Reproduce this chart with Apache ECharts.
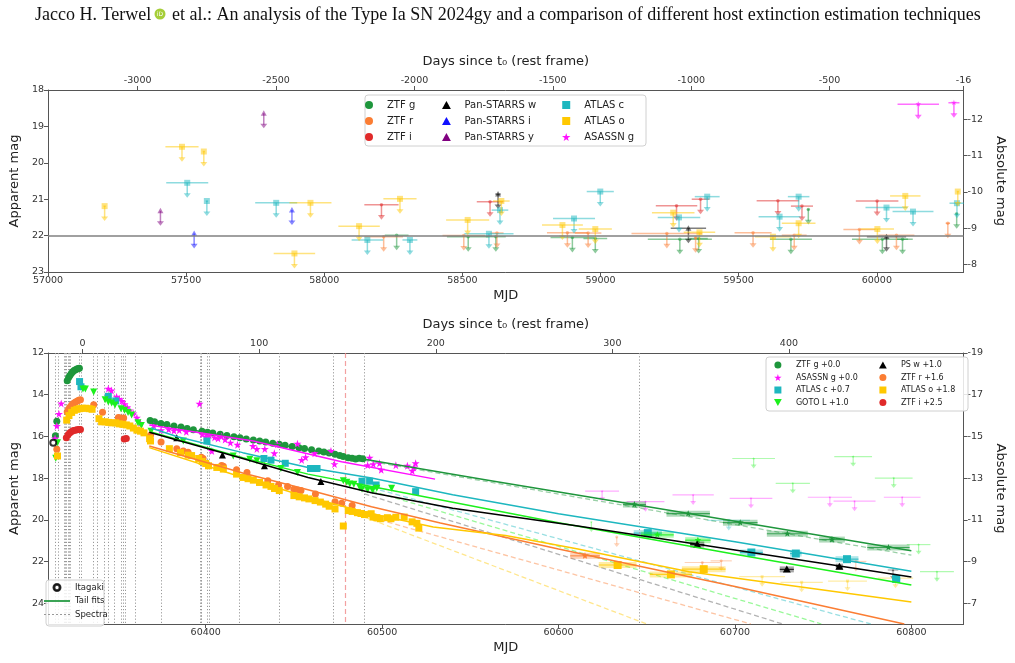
<!DOCTYPE html>
<html>
<head>
<meta charset="utf-8">
<script src="https://cdn.jsdelivr.net/npm/echarts@6/dist/echarts.min.js"></script>
<style>
  html, body { margin: 0; padding: 0; background: #fff; }
  #chart { width: 1015px; height: 663px; }
</style>
</head>
<body>
<div id="chart"></div>
<script>
// ---------- top panel: pre-explosion upper limits [mjd, mag, half-width in days] ----------
var preZtfG = [[58262, 21.99, 43], [58521, 22.03, 77], [58621, 22.03, 36], [58898, 22.05, 79], [58981, 22.08, 43],
  [59287, 22.1, 116], [59355, 22.08, 33], [59689, 22.1, 76], [59752, 21.28, 4], [60020, 22.1, 110], [60093, 22.1, 20], [60289, 21.4, 4]];
var preZtfR = [[58215, 22.03, 70], [58505, 22.0, 77], [58625, 21.93, 24], [58880, 21.92, 74], [58955, 21.93, 48],
  [59240, 21.94, 128], [59344, 22.06, 4], [59552, 21.92, 67], [59701, 21.99, 45], [59937, 21.83, 58], [60071, 21.99, 65], [60257, 21.66, 8]];
var preZtfI = [[58207, 21.15, 62], [58600, 21.07, 48], [59275, 21.18, 75], [59362, 21.0, 32], [59642, 21.04, 77], [59729, 21.19, 40], [60001, 21.05, 77]];
var prePsW = [[58629, 20.86, 10], [59318, 21.8, 64], [60035, 22.03, 71]];
var prePsI = [[57529, 21.94, 0], [57883, 21.3, 0]];
var prePsY = [[57407, 21.32, 0], [57781, 18.64, 0]];
var preAtlasC = [[57504, 20.55, 76], [57575, 21.05, 4], [57826, 21.1, 76], [58156, 22.12, 57], [58310, 22.12, 27], [58596, 21.95, 89],
  [58636, 21.3, 30], [58904, 21.53, 76], [58999, 20.79, 49], [59284, 21.5, 77], [59386, 20.93, 45], [59648, 21.48, 76],
  [59717, 20.93, 39], [60035, 21.23, 76], [60131, 21.34, 74], [60290, 21.11, 27]];
var preAtlasO = [[57205, 21.19, 4], [57485, 19.56, 60], [57564, 19.69, 4], [57892, 22.49, 75], [57950, 21.1, 76], [58126, 21.74, 75],
  [58274, 20.99, 60], [58519, 21.57, 78], [58641, 21.05, 30], [58862, 21.71, 74], [58981, 21.82, 60], [59263, 21.37, 77],
  [59358, 21.91, 57], [59624, 22.03, 65], [59717, 21.66, 61], [60002, 21.82, 60], [60103, 20.91, 55], [60293, 20.79, 4]];
var preAsassnG = [[60150, 18.39, 75], [60279, 18.35, 20]];
var limitMag = 22;

// ---------- bottom panel: light curve [mjd, mag] ----------
var ztfG = [[60314.8, 15.97], [60315.6, 15.27], [60321.5, 13.33], [60322.3, 13.18], [60323, 13.08], [60323.8, 12.98], [60324.6, 12.9],
  [60325.4, 12.84], [60326.2, 12.8], [60327, 12.77], [60327.8, 12.74], [60328.4, 12.73],
  [60368.5, 15.24], [60371, 15.3], [60374.6, 15.38], [60378, 15.43], [60382, 15.5], [60386, 15.55], [60389.5, 15.62], [60393, 15.68],
  [60397.9, 15.75], [60401, 15.8], [60404, 15.84], [60408.2, 15.9], [60412, 15.96], [60416, 16.02], [60419.4, 16.06], [60423, 16.12],
  [60427, 16.17], [60430.6, 16.22], [60434, 16.27], [60438, 16.33], [60441.7, 16.38], [60445, 16.42], [60449, 16.48], [60452.9, 16.54],
  [60456, 16.58], [60460, 16.64], [60464.1, 16.7], [60467, 16.75], [60470, 16.8], [60473.3, 16.86], [60476, 16.92], [60478, 16.97],
  [60480.8, 17.02], [60483, 17.05], [60485, 17.08], [60487, 17.05], [60489, 17.07]];
var ztfR = [[60315.6, 16.62], [60321.5, 14.82], [60322.3, 14.7], [60323, 14.6], [60324, 14.5], [60325, 14.42], [60326, 14.36],
  [60327, 14.31], [60328, 14.27], [60329, 14.24], [60336.5, 14.48], [60341.5, 14.84], [60350.5, 15.1], [60351.5, 15.12],
  [60352.5, 15.15], [60353.5, 15.12], [60368.7, 15.95], [60374.7, 16.27], [60383.6, 16.59], [60387.3, 16.7], [60390, 16.76],
  [60397.5, 17.0], [60398.5, 17.06], [60409, 17.4], [60410, 17.43], [60417.5, 17.6], [60423.4, 17.73], [60435.2, 18.13],
  [60441.3, 18.33], [60446.4, 18.4], [60450, 18.53], [60452, 18.57], [60454, 18.6], [60462.2, 18.76], [60473.3, 19.13],
  [60477.1, 19.21], [60483, 19.32]];
var ztfI = [[60321, 16.06], [60322, 15.92], [60323, 15.82], [60324, 15.76], [60325, 15.72], [60326, 15.7], [60327, 15.68],
  [60328, 15.67], [60329, 15.67], [60353.8, 16.12], [60355, 16.1]];
var asassnG = [[60314.6, 16.1], [60315.6, 15.5], [60316.8, 14.92], [60318.1, 14.42], [60344.8, 13.71], [60346.6, 13.8],
  [60349.5, 14.1], [60351, 14.2], [60352.5, 14.3], [60354, 14.45], [60355.5, 14.6], [60357, 14.75], [60359, 14.9], [60361, 15.1],
  [60363, 15.35], [60370.6, 15.48], [60374.7, 15.7], [60379, 15.66], [60382, 15.72], [60385, 15.7], [60389, 15.78], [60396.5, 14.43],
  [60398, 15.9], [60400, 16.0], [60402, 15.95], [60403.5, 16.7], [60405, 16.05], [60407, 16.1], [60409, 16.0], [60411, 16.15],
  [60414, 16.3], [60418, 16.4], [60426.8, 16.46], [60429, 16.6], [60433.5, 16.6], [60438.9, 16.81], [60440.6, 16.38], [60452, 16.35],
  [60454.4, 17.13], [60456.6, 17.0], [60461.8, 16.81], [60471, 16.7], [60473, 17.33], [60491.8, 17.38], [60492.9, 17.02],
  [60495, 17.33], [60498.5, 17.29], [60499.5, 17.6], [60507.8, 17.38], [60514.3, 17.41], [60517.1, 17.65], [60518, 17.49], [60519, 17.29]];
var atlasC = [[60328.5, 13.37], [60329.3, 13.62], [60344.8, 14.08], [60349, 14.3], [60400.7, 16.22], [60433, 17.06], [60437, 17.14],
  [60445.1, 17.29], [60459.4, 17.54], [60463.1, 17.54], [60488.6, 18.15], [60492.9, 18.15], [60496.6, 18.33], [60519, 18.65]];
var gotoL = [[60315, 17.05], [60316, 16.3], [60330.4, 13.73], [60331.8, 13.73], [60336.5, 13.87], [60343, 14.24], [60344.8, 14.35],
  [60346.7, 14.4], [60348.6, 14.5], [60352, 14.67], [60354, 14.75], [60356, 14.85], [60358, 14.97], [60361.6, 15.35], [60363.5, 15.48],
  [60369, 15.75], [60387.3, 16.22], [60415.6, 16.94], [60425, 17.1], [60429, 17.17], [60442.6, 17.54], [60452, 17.73], [60478, 18.13],
  [60480, 18.2], [60481.7, 18.29], [60484, 18.3], [60487.3, 18.44], [60488.6, 18.52], [60491.8, 18.56], [60494.6, 18.59],
  [60497, 18.49], [60505.4, 18.49]];
var psW = [[60383.6, 16.06], [60409.5, 16.89], [60433.3, 17.41], [60465.3, 18.17]];
var atlasO = [[60316, 16.94], [60321.2, 15.22], [60322.5, 15.0], [60324, 14.85], [60325.5, 14.75], [60327, 14.7], [60328.5, 14.67],
  [60330, 14.65], [60332, 14.65], [60334, 14.67], [60335.6, 14.7], [60339.5, 15.15], [60341, 15.3], [60343, 15.3], [60345, 15.33],
  [60347, 15.35], [60349, 15.35], [60351, 15.4], [60353, 15.42], [60355, 15.45], [60357, 15.5], [60359, 15.6], [60361, 15.7],
  [60363, 15.75], [60365, 15.83], [60368.2, 16.11], [60368.7, 16.22], [60379.4, 16.59], [60385.7, 16.78], [60390, 16.9], [60392, 16.92],
  [60396, 17.06], [60398, 17.2], [60400, 17.3], [60401.6, 17.41], [60406.3, 17.49], [60410, 17.57], [60417.5, 17.81], [60421.2, 17.97],
  [60424, 18.03], [60427, 18.1], [60430.5, 18.21], [60434.2, 18.33], [60437, 18.4], [60439, 18.5], [60441.7, 18.6], [60450, 18.84],
  [60453, 18.9], [60456, 18.95], [60458.5, 19.0], [60462, 19.08], [60465, 19.15], [60468, 19.25], [60470, 19.35], [60473.3, 19.48],
  [60478, 20.3], [60480.8, 19.56], [60483, 19.6], [60486, 19.66], [60488, 19.7], [60490, 19.75], [60493.8, 19.71], [60494.8, 19.87],
  [60497, 19.9], [60499, 19.95], [60503, 19.9], [60505, 19.95], [60507.8, 19.88], [60512.5, 19.87], [60517, 20.1], [60519.7, 20.17],
  [60520.8, 20.4]];
var itagaki = [[60313.6, 16.3]];

// late-time binned detections [mjd, mag, half-width]
var ztfGBin = [[60643, 19.27, 6.5], [60673.5, 19.71, 12.3], [60703, 20.14, 9.8], [60729.7, 20.67, 11.6], [60755, 20.95, 7.3], [60787, 21.33, 12]];
var atlasCBin = [[60650.6, 20.64, 8], [60709.3, 21.57, 6.5], [60734.5, 21.62, 3.3], [60763.5, 21.89, 6.5], [60791.4, 22.84, 2.3]];
var gotoLBin = [[60656, 20.72, 9.3], [60679, 20.98, 7.2]];
var psWBin = [[60678.6, 21.19, 4], [60729.4, 22.38, 4], [60759.2, 22.25, 2]];
var ztfRBin = [[60615, 21.73, 8.4]];
var atlasOBin = [[60633.5, 22.17, 10.7], [60663.7, 22.62, 12], [60682.3, 22.37, 12.4]];

// late-time upper limits [mjd, mag, half-width]
var asassnGLim = [[60624.7, 18.63, 9.6], [60649.3, 19.13, 10.7], [60676.3, 18.81, 11.7], [60709.1, 18.97, 12.1], [60753.8, 18.92, 12.5],
  [60767.8, 19.11, 11.9], [60794.8, 18.92, 10.4]];
var gotoLLim = [[60618.6, 20.11, 0], [60710.6, 17.06, 12.1], [60732.8, 18.25, 9.7], [60767, 16.97, 10.7], [60790, 18.0, 10.7],
  [60804.1, 21.19, 6.7], [60814.5, 22.49, 9.6]];
var ztfRLim = [[60633, 20.83, 0], [60681.5, 22.05, 10], [60692.2, 21.97, 6], [60768.5, 22.0, 6]];
var atlasOLim = [[60715.4, 22.73, 13], [60737.8, 23.0, 12], [60763.8, 22.94, 11], [60791, 22.8, 10]];
var atlasCLim = [[60696.5, 20.03, 12]];
var psWLim = [[60789.6, 22.41, 3]];

// tail fits
var fitZtfG = [[60368, 15.33], [60420, 16.1], [60480, 16.95], [60560, 18.1], [60667, 19.6], [60800, 21.49]];
var fitAsassnG = [[60368, 15.45], [60427, 16.22], [60477, 17.22], [60530, 18.05]];
var fitAtlasC = [[60369, 15.6], [60384, 16.02], [60421, 16.78], [60458, 17.49], [60494, 18.0], [60540, 18.8], [60600, 19.71], [60700, 21.05], [60800, 22.47]];
var fitGotoL = [[60369, 15.79], [60421, 17.02], [60458, 17.81], [60494, 18.4], [60600, 20.14], [60700, 21.65], [60800, 23.13]];
var fitPsW = [[60368, 15.8], [60421, 17.06], [60458, 17.97], [60494, 18.7], [60540, 19.45], [60611, 20.3], [60700, 21.45], [60800, 22.75]];
var fitZtfR = [[60368, 16.46], [60421, 17.76], [60458, 18.56], [60494, 19.38], [60533, 20.16], [60600, 21.4], [60700, 23.2], [60796, 25]];
var fitAtlasO = [[60368, 16.54], [60421, 17.97], [60458, 18.92], [60494, 19.71], [60529, 20.35], [60570, 20.75], [60611, 21.4], [60674, 22.49], [60800, 23.95]];
// dashed extrapolations
var dashPsW = [[60490, 18.76], [60727, 25]];
var dashAtlasC = [[60490, 18.37], [60777, 25]];
var dashGotoL = [[60490, 18.52], [60749, 25]];
var dashZtfR = [[60490, 19.8], [60709, 25]];
var dashAtlasO = [[60490, 19.87], [60650, 25]];
var dashZtfG = [[60490, 17.15], [60800, 21.7]];

var spectra = [60314.7, 60316.4, 60319.8, 60320.5, 60321.2, 60322, 60322.8, 60323.5, 60328.5, 60329.2, 60336.5, 60338.7,
  60342.6, 60344.8, 60348, 60352.3, 60353.4, 60354.6, 60360.2, 60375, 60397, 60397.3, 60397.6, 60401.1, 60402.1, 60418.8,
  60441.7, 60472.1, 60490.1, 60645.6];
var tRef = 60479.3;

// tick labels
var topMjdTicks = [57000, 57500, 58000, 58500, 59000, 59500, 60000];
var topDayTicks = [-3000, -2500, -2000, -1500, -1000, -500, -16];
var topAppTicks = [18, 19, 20, 21, 22, 23];
var topAbsTicks = [-12, -11, -10, -9, -8];
var botMjdTicks = [60400, 60500, 60600, 60700, 60800];
var botDayTicks = [0, 100, 200, 300, 400];
var botAppTicks = [12, 14, 16, 18, 20, 22, 24];
var botAbsTicks = [-19, -17, -15, -13, -11, -9, -7];

var C = {
  ztfg: '#1e963c', ztfr: '#fb7d33', ztfi: '#e02a2a', psw: '#000000', psi: '#1010ff', psy: '#800080',
  atc: '#1db7bf', ato: '#ffc800', asg: '#ff10ff', goto: '#1cf01c'
};
var STAR = 'path://M50,0L61,35L98,35L68,57L79,91L50,70L21,91L32,57L2,35L39,35Z';
var CIRC = 'path://M10,5A5,5,0,1,1,0,5A5,5,0,1,1,10,5Z';
var SQ = 'path://M0,0H10V10H0Z';
var TRI = 'path://M5,0L10,9L0,9Z';
var TRIDOWN = 'path://M0,0L10,0L5,9Z';
var FONT = 'DejaVu Sans';

function markerShape(kind, cx, cy, s, style) {
  var h = s / 2;
  if (kind === 'square') return { type: 'rect', shape: { x: cx - h, y: cy - h, width: s, height: s }, style: style };
  if (kind === 'tri') return { type: 'polygon', shape: { points: [[cx, cy - h], [cx + h, cy + h * 0.8], [cx - h, cy + h * 0.8]] }, style: style };
  if (kind === 'star') {
    var pts = [];
    for (var i = 0; i < 10; i++) {
      var r = i % 2 ? h * 0.45 : h;
      var a = -Math.PI / 2 + i * Math.PI / 5;
      pts.push([cx + r * Math.cos(a), cy + r * Math.sin(a)]);
    }
    return { type: 'polygon', shape: { points: pts }, style: style };
  }
  return { type: 'circle', shape: { cx: cx, cy: cy, r: h }, style: style };
}

// upper limit: horizontal bin bar, marker, downward arrow
function limitSeries(name, data, color, kind, ax, o) {
  return {
    name: name, type: 'custom', xAxisIndex: ax, yAxisIndex: ax, clip: true, z: 3,
    itemStyle: { color: color }, data: data,
    renderItem: function (params, api) {
      var y = api.value(1);
      var p = api.coord([api.value(0), y]);
      var l = api.coord([api.value(0) - api.value(2), y])[0];
      var r = api.coord([api.value(0) + api.value(2), y])[0];
      var st = { stroke: color, lineWidth: o.lw, opacity: o.alpha };
      var a = o.arrow, hd = o.head;
      return {
        type: 'group', children: [
          { type: 'line', shape: { x1: l, y1: p[1], x2: r, y2: p[1] }, style: st },
          { type: 'line', shape: { x1: p[0], y1: p[1], x2: p[0], y2: p[1] + a - hd }, style: st },
          { type: 'polygon', shape: { points: [[p[0] - hd, p[1] + a - hd * 1.3], [p[0] + hd, p[1] + a - hd * 1.3], [p[0], p[1] + a]] }, style: { fill: color, opacity: o.alpha } },
          markerShape(kind, p[0], p[1], o.size, { fill: color, opacity: o.alpha })
        ]
      };
    }
  };
}

function binSeries(data, color, kind, size) {
  return {
    name: '_bin', type: 'custom', xAxisIndex: 2, yAxisIndex: 2, clip: true, z: 4, data: data,
    renderItem: function (params, api) {
      var y = api.value(1);
      var p = api.coord([api.value(0), y]);
      var l = api.coord([api.value(0) - api.value(2), y])[0];
      var r = api.coord([api.value(0) + api.value(2), y])[0];
      return {
        type: 'group', children: [
          { type: 'rect', shape: { x: l, y: p[1] - 3, width: r - l, height: 6 }, style: { fill: color, opacity: 0.35 } },
          { type: 'line', shape: { x1: l, y1: p[1], x2: r, y2: p[1] }, style: { stroke: color, lineWidth: 1.2, opacity: 0.8 } },
          markerShape(kind, p[0], p[1], size, { fill: color })
        ]
      };
    }
  };
}

function scat(name, data, color, symbol, size, rot) {
  return {
    name: name, type: 'scatter', xAxisIndex: 2, yAxisIndex: 2, data: data, z: 5,
    symbol: symbol, symbolSize: size, symbolRotate: rot || 0,
    itemStyle: { color: color, opacity: 1 }
  };
}

function fitLine(name, data, color, dashed) {
  return {
    name: name, type: 'line', xAxisIndex: 2, yAxisIndex: 2, data: data, z: dashed ? 2 : 6,
    showSymbol: false, smooth: false, clip: true,
    lineStyle: dashed ? { color: color, width: 1.3, type: [5, 3], opacity: 0.45 } : { color: color, width: 1.5 },
    itemStyle: { color: color }
  };
}

var topLim = { lw: 1.5, alpha: 0.5, arrow: 15, head: 3.5, size: 6 };
var topDot = { lw: 1.5, alpha: 0.5, arrow: 15, head: 3.5, size: 3.5 };
var botLim = { lw: 1.2, alpha: 0.35, arrow: 10, head: 3, size: 3 };

function plainNum(v) {
  var n = Math.round(v * 100) / 100;
  return (n < 0 ? '-' : '') + String(Math.abs(n));
}

function axisBase(extra, ticks) {
  var ax = {
    type: 'value', splitLine: { show: false },
    axisLine: { show: true, onZero: false, lineStyle: { color: '#555', width: 1 } },
    axisTick: { show: true, length: 4, lineStyle: { color: '#555' }, customValues: ticks },
    axisLabel: { color: '#333', fontSize: 9.5, fontFamily: FONT, margin: 4, formatter: plainNum, customValues: ticks },
    nameTextStyle: { color: '#222', fontSize: 13, fontFamily: FONT },
    nameLocation: 'middle'
  };
  for (var k in extra) ax[k] = extra[k];
  return ax;
}

var chart = echarts.init(document.getElementById('chart'));

function legendCol(left, top, items, fs, ih, lh, gap) {
  return {
    orient: 'vertical', left: left, top: top, itemWidth: 26, itemHeight: ih, itemGap: gap,
    textStyle: { fontFamily: FONT, color: '#222', fontSize: fs, lineHeight: lh }, padding: 0, z: 60,
    selectedMode: false, data: items
  };
}

var option = {
  animation: false,
  backgroundColor: '#fff',
  graphic: [
    { type: 'text', x: 35, y: 15, style: { text: 'Jacco H. Terwel', fontSize: 18, fontFamily: 'Liberation Serif', fill: '#111', verticalAlign: 'middle' } },
    { type: 'circle', shape: { cx: 160, cy: 14, r: 5.5 }, style: { fill: '#a6ce39' } },
    { type: 'text', x: 160, y: 14.5, style: { text: 'iD', fontSize: 6, fontFamily: FONT, fill: '#fff', align: 'center', verticalAlign: 'middle' } },
    { type: 'text', x: 172, y: 15, style: { text: 'et al.: An analysis of the Type Ia SN 2024gy and a comparison of different host extinction estimation techniques', fontSize: 18, fontFamily: 'Liberation Serif', fill: '#111', verticalAlign: 'middle' } },
    { type: 'rect', z: 50, shape: { x: 365, y: 95, width: 281, height: 51, r: 3 }, style: { fill: 'rgba(255,255,255,0.85)', stroke: '#d0d0d0', lineWidth: 1 } },
    { type: 'rect', z: 50, shape: { x: 766, y: 357, width: 202, height: 54, r: 3 }, style: { fill: 'rgba(255,255,255,0.85)', stroke: '#d0d0d0', lineWidth: 1 } },
    { type: 'rect', z: 50, shape: { x: 46, y: 580, width: 58, height: 46, r: 3 }, style: { fill: 'rgba(255,255,255,0.85)', stroke: '#d0d0d0', lineWidth: 1 } }
  ],
  legend: [
    legendCol(365, 98, [{ name: 'ZTF g', icon: CIRC }, { name: 'ZTF r', icon: CIRC }, { name: 'ZTF i', icon: CIRC }], 10, 8, 14, 2),
    legendCol(442, 98, [{ name: 'Pan-STARRS w', icon: TRI }, { name: 'Pan-STARRS i', icon: TRI }, { name: 'Pan-STARRS y', icon: TRI }], 10, 8, 14, 2),
    legendCol(562, 98, [{ name: 'ATLAS c', icon: SQ }, { name: 'ATLAS o', icon: SQ }, { name: 'ASASSN g', icon: STAR }], 10, 8, 14, 2),
    legendCol(774, 359, [{ name: 'ZTF g +0.0', icon: CIRC }, { name: 'ASASSN g +0.0', icon: STAR }, { name: 'ATLAS c +0.7', icon: SQ }, { name: 'GOTO L +1.0', icon: TRIDOWN }], 8, 7, 12, 0.5),
    legendCol(879, 359, [{ name: 'PS w +1.0', icon: TRI }, { name: 'ZTF r +1.6', icon: CIRC }, { name: 'ATLAS o +1.8', icon: SQ }, { name: 'ZTF i +2.5', icon: CIRC }], 8, 7, 12, 0.5),
    legendCol(44, 581, [{ name: 'Itagaki', icon: 'path://M10,5A5,5,0,1,1,0,5A5,5,0,1,1,10,5ZM8.8,5A3.8,3.8,0,1,0,1.2,5A3.8,3.8,0,1,0,8.8,5Z' },
      { name: 'Tail fits', icon: 'path://M0,0h30v2h-30z' },
      { name: 'Spectra', icon: 'path://M0,0h2v1h-2zM4,0h2v1h-2zM8,0h2v1h-2zM12,0h2v1h-2zM16,0h2v1h-2zM20,0h2v1h-2zM24,0h2v1h-2z' }], 8.5, 7, 13, 0.5)
  ],
  grid: [
    { left: 42, top: 90, width: 928, height: 182 },
    { left: 42, top: 353, width: 928, height: 271 }
  ],
  xAxis: [
    axisBase({ gridIndex: 0, min: 57000, max: 60314, name: 'MJD', nameGap: 17 }, topMjdTicks),
    axisBase({ gridIndex: 0, position: 'top', min: -3324, max: -16, name: 'Days since t\u2080 (rest frame)', nameGap: 22 }, topDayTicks),
    axisBase({ gridIndex: 1, min: 60310.6, max: 60829.6, name: 'MJD', nameGap: 17 }, botMjdTicks),
    axisBase({ gridIndex: 1, position: 'top', min: -19.6, max: 498.9, name: 'Days since t\u2080 (rest frame)', nameGap: 22 }, botDayTicks)
  ],
  yAxis: [
    axisBase({ gridIndex: 0, inverse: true, min: 18, max: 23, name: 'Apparent mag', nameGap: 24 }, topAppTicks),
    axisBase({ gridIndex: 0, position: 'right', inverse: true, min: -12.8, max: -7.8, name: 'Absolute mag', nameGap: 24, nameRotate: -90 }, topAbsTicks),
    axisBase({ gridIndex: 1, inverse: true, min: 12, max: 25, name: 'Apparent mag', nameGap: 24 }, botAppTicks),
    axisBase({ gridIndex: 1, position: 'right', inverse: true, min: -19, max: -6, name: 'Absolute mag', nameGap: 24, nameRotate: -90 }, botAbsTicks)
  ],
  series: [
    // top panel
    {
      name: '_limitline', type: 'line', xAxisIndex: 0, yAxisIndex: 0, data: [], z: 2,
      markLine: { silent: true, symbol: 'none', label: { show: false }, lineStyle: { color: '#808080', width: 1.5, type: 'solid' }, data: [{ yAxis: limitMag }] }
    },
    limitSeries('ZTF g', preZtfG, C.ztfg, 'circle', 0, topDot),
    limitSeries('ZTF r', preZtfR, C.ztfr, 'circle', 0, topDot),
    limitSeries('ZTF i', preZtfI, C.ztfi, 'circle', 0, topDot),
    limitSeries('Pan-STARRS w', prePsW, C.psw, 'tri', 0, topLim),
    limitSeries('Pan-STARRS i', prePsI, C.psi, 'tri', 0, topLim),
    limitSeries('Pan-STARRS y', prePsY, C.psy, 'tri', 0, topLim),
    limitSeries('ATLAS c', preAtlasC, C.atc, 'square', 0, topLim),
    limitSeries('ATLAS o', preAtlasO, C.ato, 'square', 0, topLim),
    limitSeries('ASASSN g', preAsassnG, C.asg, 'star', 0, { lw: 1.5, alpha: 0.6, arrow: 15, head: 3.5, size: 6 }),

    // bottom panel: spectra epochs and reference epoch
    {
      name: 'Spectra', type: 'line', xAxisIndex: 2, yAxisIndex: 2, data: [], z: 1,
      itemStyle: { color: '#999' }, lineStyle: { color: '#999' },
      markLine: {
        silent: true, symbol: 'none', label: { show: false },
        lineStyle: { color: '#9a9a9a', width: 1, type: [1.2, 2] },
        data: spectra.map(function (v) { return { xAxis: v }; })
      }
    },
    {
      name: '_tref', type: 'line', xAxisIndex: 2, yAxisIndex: 2, data: [], z: 1,
      color: '#f08a8a', itemStyle: { color: '#f08a8a' }, lineStyle: { color: '#f08a8a' },
      markLine: {
        silent: true, symbol: 'none', label: { show: false },
        lineStyle: { color: '#f08a8a', width: 1.2, type: [5, 3], opacity: 0.8 },
        data: [{ xAxis: tRef }]
      }
    },
    // dashed extrapolations
    fitLine('_d1', dashZtfG, C.ztfg, true),
    fitLine('_d2', dashPsW, '#555', true),
    fitLine('_d3', dashAtlasC, C.atc, true),
    fitLine('_d4', dashGotoL, C.goto, true),
    fitLine('_d5', dashZtfR, C.ztfr, true),
    fitLine('_d6', dashAtlasO, C.ato, true),
    // limits
    limitSeries('_l1', asassnGLim, C.asg, 'star', 2, botLim),
    limitSeries('_l2', gotoLLim, C.goto, 'star', 2, botLim),
    limitSeries('_l3', ztfRLim, C.ztfr, 'circle', 2, botLim),
    limitSeries('_l4', atlasOLim, C.ato, 'square', 2, botLim),
    limitSeries('_l5', atlasCLim, C.atc, 'square', 2, botLim),
    limitSeries('_l6', psWLim, C.psw, 'tri', 2, botLim),
    // tail fits
    fitLine('Tail fits', fitZtfG, C.ztfg, false),
    fitLine('_f1', fitAsassnG, C.asg, false),
    fitLine('_f2', fitAtlasC, C.atc, false),
    fitLine('_f3', fitGotoL, C.goto, false),
    fitLine('_f4', fitPsW, '#000', false),
    fitLine('_f5', fitZtfR, C.ztfr, false),
    fitLine('_f6', fitAtlasO, C.ato, false),
    // binned late detections
    binSeries(ztfGBin, C.ztfg, 'star', 7),
    binSeries(atlasCBin, C.atc, 'square', 8),
    binSeries(gotoLBin, C.goto, 'star', 7),
    binSeries(psWBin, C.psw, 'tri', 8),
    binSeries(ztfRBin, C.ztfr, 'star', 7),
    binSeries(atlasOBin, C.ato, 'square', 8),
    // light curve points
    scat('ZTF g +0.0', ztfG, C.ztfg, 'circle', 7),
    scat('ASASSN g +0.0', asassnG, C.asg, STAR, 8),
    scat('ATLAS c +0.7', atlasC, C.atc, 'rect', 7),
    scat('GOTO L +1.0', gotoL, C.goto, 'triangle', 7, 180),
    scat('PS w +1.0', psW, C.psw, 'triangle', 7),
    scat('ZTF r +1.6', ztfR, C.ztfr, 'circle', 7),
    scat('ATLAS o +1.8', atlasO, C.ato, 'rect', 7),
    scat('ZTF i +2.5', ztfI, C.ztfi, 'circle', 7),
    {
      name: 'Itagaki', type: 'scatter', xAxisIndex: 2, yAxisIndex: 2, data: itagaki, z: 6,
      symbol: 'emptyCircle', symbolSize: 6, itemStyle: { color: '#000', borderColor: '#000', borderWidth: 1 }
    }
  ]
};

chart.setOption(option);
</script>
</body>
</html>
